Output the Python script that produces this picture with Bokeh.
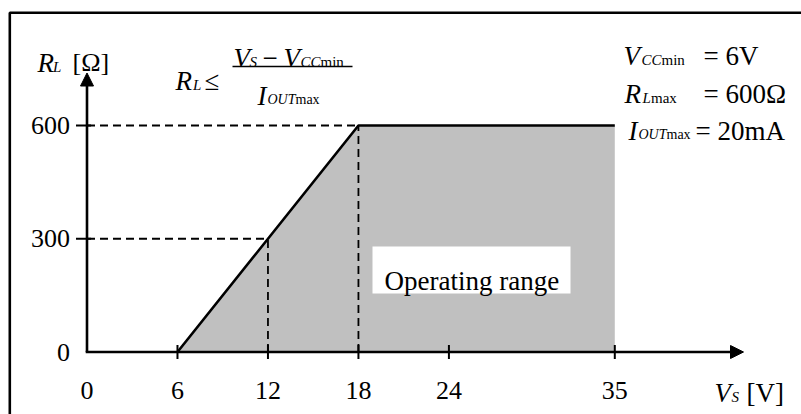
from bokeh.plotting import figure
from bokeh.models import Range1d, Arrow, NormalHead
from bokeh.core.properties import value
from bokeh.embed import file_html
from bokeh.resources import INLINE

# ---- data ----
boundary_vs = [6, 18, 35]          # V_S [V]
boundary_rl = [0, 600, 600]        # R_L [Ohm]
x_tick_values = [0, 6, 12, 18, 24, 35]
x_tick_labels = ["0", "6", "12", "18", "24", "35"]
y_tick_values = [0, 300, 600]
y_tick_labels = ["0", "300", "600"]
guide_vs = [12, 18]
guide_rl = [300, 600]

# ---- layout (picture pixels -> data) ----
W, H = 801, 414
OFF = 0                   # canvas offset within the picture
OX, OY = 86.5, 351.5      # picture pixel of origin
SX, SY = 15.08, 0.3775    # px per V, px per Ohm


def X(px):
    return (px - OX) / SX


def Y(py):
    return (OY - py) / SY


p = figure(width=W, height=H,
           x_range=Range1d(X(OFF), X(OFF + W)),
           y_range=Range1d(Y(OFF + H), Y(OFF)),
           output_backend="svg", toolbar_location=None, min_border=0,
           x_axis_location=None, y_axis_location=None)
p.grid.visible = False
p.outline_line_color = None
p.background_fill_color = "white"
p.border_fill_color = "white"

FONT = value("Liberation Serif")

# operating area
p.patch(x=boundary_vs + [boundary_vs[-1]], y=boundary_rl + [0],
        fill_color="#c0c0c0", line_color=None)

# dashed guides
p.segment(x0=[0] * len(guide_vs), y0=guide_rl, x1=guide_vs, y1=guide_rl,
          line_color="black", line_width=1.8, line_dash="8 5")
p.segment(x0=guide_vs, y0=[0] * len(guide_vs), x1=guide_vs, y1=guide_rl,
          line_color="black", line_width=1.8, line_dash="8 5")

# boundary line
p.line(x=boundary_vs, y=boundary_rl, line_color="black", line_width=2.6)

# ticks
xt = x_tick_values[1:]
p.segment(x0=xt, x1=xt, y0=[-7 / SY] * len(xt), y1=[7 / SY] * len(xt),
          line_color="black", line_width=2)
yt = y_tick_values[1:]
p.segment(x0=[-11 / SX] * len(yt), x1=[4 / SX] * len(yt), y0=yt, y1=yt,
          line_color="black", line_width=2)

# axes with arrows
p.add_layout(Arrow(end=NormalHead(size=13, fill_color="black", line_color="black", line_width=1),
                   x_start=X(OX - 1.3), y_start=0, x_end=X(743), y_end=0,
                   line_color="black", line_width=2.6))
p.add_layout(Arrow(end=NormalHead(size=13, fill_color="black", line_color="black", line_width=1),
                   x_start=0, y_start=0, x_end=0, y_end=Y(72.5),
                   line_color="black", line_width=2.6))

# tick labels
p.text(x=x_tick_values, y=[Y(390)] * len(x_tick_values), text=x_tick_labels,
       text_font=FONT, text_font_size="26px", text_align="center",
       text_baseline="alphabetic", text_color="black")
p.text(x=[X(69.5)] * len(y_tick_values), y=y_tick_values, text=y_tick_labels,
       text_font=FONT, text_font_size="26px", text_align="right",
       text_baseline="middle", text_color="black")


def txt(px, py, s, size=27, italic=False):
    p.text(x=[X(px)], y=[Y(py)], text=[s], text_font=FONT,
           text_font_size=f"{size}px",
           text_font_style="italic" if italic else "normal",
           text_align="left", text_baseline="alphabetic", text_color="black")


# axis titles
txt(37, 62, "R", 27, True)
txt(52.5, 66, "L", 15, True)
txt(72, 62, "[Ω]", 26)
txt(714, 392, "V", 27, True)
txt(731, 396, "S", 15, True)
txt(746, 392, "[V]", 27)

# formula
txt(175, 80, "R", 27, True)
txt(192.5, 84, "L", 15, True)
txt(204, 80, "≤", 27)
p.line(x=[X(232), X(352)], y=[Y(66), Y(66)], line_color="black", line_width=1.6)
txt(233, 57, "V", 27, True)
txt(249, 61, "S", 15, True)
txt(262, 57, "−", 27)
txt(283, 57, "V", 27, True)
txt(300, 61, "CC", 15, True)
txt(320, 61, "min", 15)
txt(257, 95, "I", 27, True)
txt(267, 99, "OUT", 14, True)
txt(295, 99, "max", 14)

# parameter legend
txt(623, 55, "V", 27, True)
txt(641, 59, "CC", 15, True)
txt(661, 59, "min", 15)
txt(703, 55, "= 6V", 27)
txt(624, 93, "R", 27, True)
txt(642, 97, "L", 15, True)
txt(650.5, 97, "max", 15)
txt(703, 93, "= 600Ω", 27)
txt(628, 130, "I", 27, True)
txt(638, 134, "OUT", 14, True)
txt(666, 134, "max", 14)
txt(695, 130, "= 20mA", 27)

# operating range label box
p.quad(left=[X(372)], right=[X(570)], top=[Y(246)], bottom=[Y(293)],
       fill_color="white", line_color=None)
txt(384, 280, "Operating range", 27)

# outer frame (right/bottom edges lie outside the picture)
p.line(x=[X(9.3), X(9.3), X(900)], y=[Y(900), Y(12.3), Y(12.3)],
       line_color="black", line_width=2.6)

open("out.html", "w").write(file_html(p, INLINE))
